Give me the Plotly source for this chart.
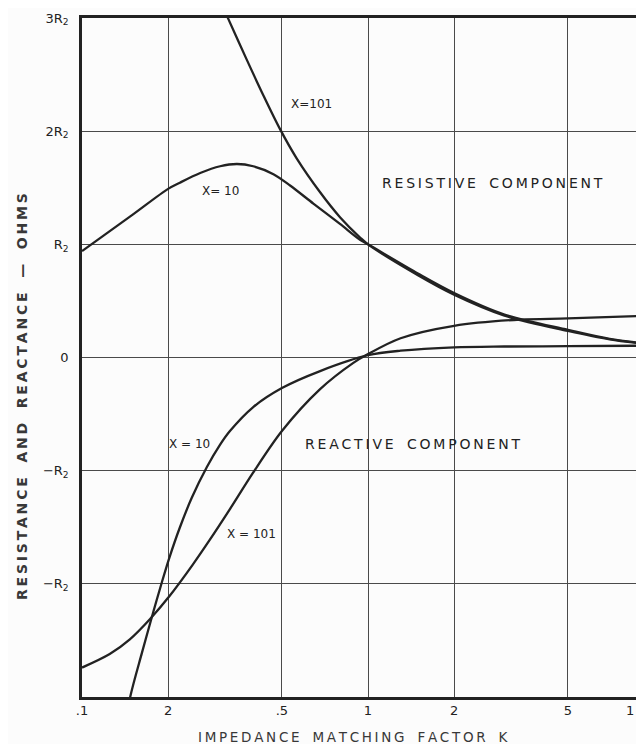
import math
import plotly.graph_objects as go

# impedance matching factor K (log axis) vs resistance / reactance in units of R2
k_res_10 = [0.1, 0.15, 0.2, 0.22, 0.259, 0.304, 0.348, 0.397, 0.467, 0.534, 0.644, 0.798, 0.938, 1.0, 1.5, 2, 3, 5, 7, 10]
res_10 = [0.94, 1.26, 1.49, 1.545, 1.63, 1.69, 1.71, 1.69, 1.62, 1.52, 1.36, 1.18, 1.04, 1.0, 0.74, 0.57, 0.38, 0.245, 0.165, 0.115]

k_res_101 = [0.30, 0.325, 0.377, 0.430, 0.492, 0.563, 0.680, 0.798, 0.938, 1.0, 1.5, 2, 3, 5, 7, 10]
res_101 = [3.19, 2.99, 2.63, 2.32, 2.02, 1.76, 1.46, 1.24, 1.06, 1.0, 0.725, 0.555, 0.37, 0.235, 0.16, 0.11]

k_rea_10 = [0.14, 0.148, 0.162, 0.177, 0.190, 0.202, 0.220, 0.242, 0.273, 0.304, 0.329, 0.396, 0.5, 0.68, 1.0, 1.3, 2, 3, 5, 10]
rea_10 = [-3.3, -2.98, -2.61, -2.26, -1.99, -1.77, -1.50, -1.24, -0.97, -0.77, -0.65, -0.44, -0.27, -0.12, 0.02, 0.06, 0.09, 0.097, 0.10, 0.105]

k_rea_101 = [0.1, 0.125, 0.147, 0.173, 0.202, 0.244, 0.280, 0.329, 0.396, 0.5, 0.68, 0.886, 1.0, 1.3, 2, 3.4, 5, 10]
rea_101 = [-2.74, -2.62, -2.49, -2.31, -2.11, -1.83, -1.61, -1.34, -1.02, -0.65, -0.28, -0.05, 0.03, 0.17, 0.28, 0.335, 0.345, 0.37]

x_ticks = [0.1, 0.2, 0.5, 1, 2, 5]
x_labels = [".1", "2", ".5", "1", "2", "5"]
y_ticks = [-3, -2, -1, 0, 1, 2, 3]
y_labels = ["", "\u2212R<sub>2</sub>", "\u2212R<sub>2</sub>", "0", "R<sub>2</sub>", "2R<sub>2</sub>", "3R<sub>2</sub>"]

ink = "#222222"
font = "DejaVu Sans"


def spaced(text):
    # hand lettering is widely tracked
    words = text.split(" ")
    return "\u00a0\u00a0\u00a0".join("\u2009".join(w) for w in words)


fig = go.Figure()
for xs, ys in [(k_res_10, res_10), (k_res_101, res_101), (k_rea_10, rea_10), (k_rea_101, rea_101)]:
    fig.add_trace(go.Scatter(x=xs, y=ys, mode="lines",
                             line=dict(color=ink, width=2.3, shape="spline", smoothing=0.9),
                             showlegend=False, hoverinfo="skip"))


def note(text, x, y, size=12):
    fig.add_annotation(x=math.log10(x), y=y, xref="x", yref="y", text=text, showarrow=False,
                       font=dict(family=font, size=size, color=ink))


note("X=101", 0.637, 2.24)
note("X= 10", 0.304, 1.47)
note(spaced("RESISTIVE COMPONENT"), 2.73, 1.545, 14)
note(spaced("REACTIVE COMPONENT"), 1.435, -0.76, 14)
note("X = 10", 0.237, -0.76)
note("X = 101", 0.39, -1.56)

# last x label (K = 10) sits at the cut right edge
fig.add_annotation(x=1.0, y=-0.0206, xref="paper", yref="paper", xanchor="right", yanchor="middle",
                   text="1", showarrow=False, font=dict(family=font, size=13, color=ink))
fig.add_annotation(x=-0.108, y=0.442, xref="paper", yref="paper", xanchor="center", yanchor="middle",
                   textangle=-90, showarrow=False,
                   text="<b>" + spaced("RESISTANCE AND REACTANCE \u2014 OHMS") + "</b>",
                   font=dict(family=font, size=14, color="#383838"))
fig.add_annotation(x=0.489, y=-0.059, xref="paper", yref="paper", xanchor="center", yanchor="middle",
                   text=spaced("IMPEDANCE MATCHING FACTOR K"), showarrow=False,
                   font=dict(family=font, size=13.5, color="#383838"))

fig.update_xaxes(type="log", range=[-1, 0.937], tickvals=x_ticks, ticktext=x_labels,
                 showgrid=True, gridcolor="#4a4a4a", gridwidth=1.2,
                 showline=True, linecolor=ink, linewidth=2.5, mirror=True,
                 ticks="", tickfont=dict(family=font, size=13, color=ink))
fig.update_yaxes(range=[-3, 3], tickvals=y_ticks, ticktext=y_labels,
                 showgrid=True, gridcolor="#4a4a4a", gridwidth=1.2, zeroline=False,
                 showline=True, linecolor=ink, linewidth=2.5,
                 ticks="outside", ticklen=8, tickcolor="rgba(0,0,0,0)",
                 tickfont=dict(family=font, size=13, color=ink))

# page body adds an 8px offset, so the figure is sized to land the plot where the reference has it
fig.update_layout(width=628, height=736, margin=dict(l=74, r=0, t=10, b=47),
                  paper_bgcolor="#fcfcfc", plot_bgcolor="#fcfcfc")

fig.write_html("out.html")
